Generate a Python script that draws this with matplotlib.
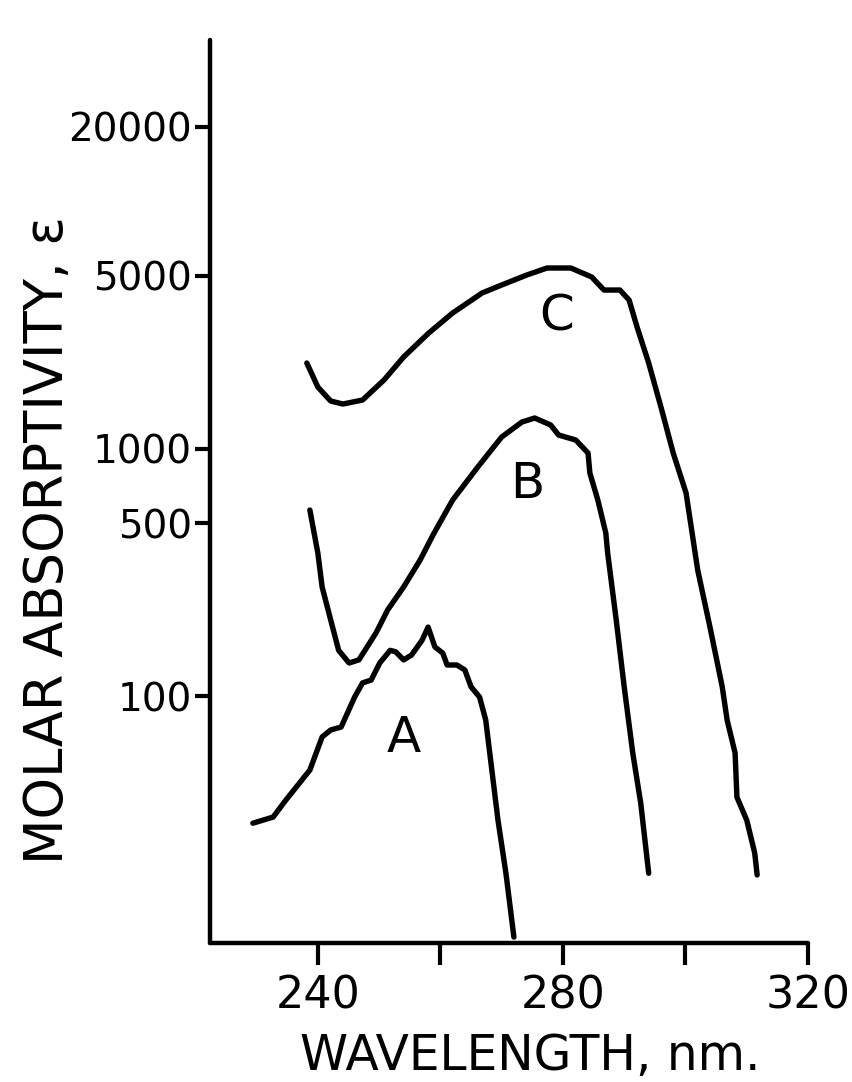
import numpy as np
import matplotlib
matplotlib.use("Agg")
import matplotlib.pyplot as plt

plt.rcParams['font.family'] = ['DejaVu Sans']

# curve A (wavelength nm, molar absorptivity)
wl_a = [229.4, 232.7, 234.8, 238.7, 240.7, 242.1, 243.8, 246.0, 247.3, 248.7,
        250.1, 251.8, 252.7, 254.0, 255.3, 257.0, 258.0, 259.1, 260.4, 261.1,
        262.7, 264.0, 265.0, 266.4, 267.4, 268.4, 269.4, 270.7, 272.0]
eps_a = [30.6, 32.4, 38.0, 50.2, 68.3, 72.9, 74.9, 99, 113, 116,
         136, 153, 151, 140, 146.5, 168, 190, 158, 149, 133.5,
         133.5, 127.4, 109, 99, 80, 50.2, 31.5, 19.2, 10.6]

# curve B
wl_b = [238.7, 239.0, 240.0, 240.7, 242.1, 243.4, 245.1, 246.7, 249.5, 251.4,
        254.0, 256.7, 258.8, 262.0, 266.1, 270.0, 273.3, 275.4, 278.0, 279.3,
        282.1, 284.1, 284.4, 285.7, 287.0, 287.3, 288.7, 290.0, 291.4, 292.7, 294.0]
eps_b = [565, 515, 379, 276, 203, 153, 136, 140, 180, 223,
         276, 355, 448, 620, 843, 1115, 1282, 1331, 1247, 1136,
         1084, 961, 797, 620, 456, 379, 203, 109, 58.8, 36.9, 19.2]

# curve C
wl_c = [238.2, 240.0, 242.1, 244.1, 247.3, 250.8, 254.0, 258.1, 262.0, 266.8,
        270.0, 274.1, 277.4, 281.3, 284.7, 286.7, 289.3, 290.8, 292.1, 294.0,
        296.0, 298.0, 300.1, 302.0, 304.0, 306.0, 306.8, 308.1, 308.4, 310.0,
        311.3, 311.7]
eps_c = [2221, 1776, 1559, 1516, 1574, 1896, 2349, 2937, 3538, 4262,
         4592, 5040, 5379, 5379, 4947, 4382, 4382, 3993, 3105, 2221,
         1474, 961, 662, 323, 190, 109, 80, 58.8, 39.0, 31.5,
         23.2, 18.9]

xticks = [240, 260, 280, 300, 320]
xticklabels = ["240", "", "280", "", "320"]
yticks = [100, 500, 1000, 5000, 20000]
yticklabels = ["100", "500", "1000", "5000", "20000"]

labels = ["A", "B", "C"]
label_x = [254.0, 274.1, 279.0]
label_y = [59.4, 632, 3020]

fig = plt.figure(figsize=(8.52, 10.82), dpi=100)
ax = fig.add_axes([210/852, 1 - 943/1082, (808-210)/852, (943-40)/1082])

for wl, eps in [(wl_a, eps_a), (wl_b, eps_b), (wl_c, eps_c)]:
    ax.plot(wl, eps, color="black", lw=3.9, solid_capstyle="round", solid_joinstyle="round")

for t, x, y in zip(labels, label_x, label_y):
    ax.text(x, y, t, fontsize=36, ha="center", va="baseline")

ax.set_yscale("log")
ax.set_xlim(222.4, 320)
ax.set_ylim(10.03, 44950)

ax.set_xticks(xticks)
ax.set_xticklabels(xticklabels, fontsize=32)
ax.set_yticks(yticks)
ax.set_yticklabels(yticklabels, fontsize=28)
ax.yaxis.set_minor_locator(matplotlib.ticker.NullLocator())

ax.tick_params(axis="x", direction="out", length=16, width=3, pad=7)
ax.tick_params(axis="y", direction="out", length=11, width=3, pad=2)

for s in ["top", "right"]:
    ax.spines[s].set_visible(False)
for s in ["left", "bottom"]:
    ax.spines[s].set_linewidth(3.2)
    ax.spines[s].set_capstyle("round")

ax.text(0.535, (943-1070)/903, "WAVELENGTH, nm.", transform=ax.transAxes,
        fontsize=35, ha="center", va="baseline")
ax.text((63-210)/598, (943-540)/903, "MOLAR ABSORPTIVITY, \u03b5", transform=ax.transAxes,
        fontsize=38, ha="center", va="baseline", rotation=90, rotation_mode="anchor")

fig.savefig("out.png", dpi=100)
